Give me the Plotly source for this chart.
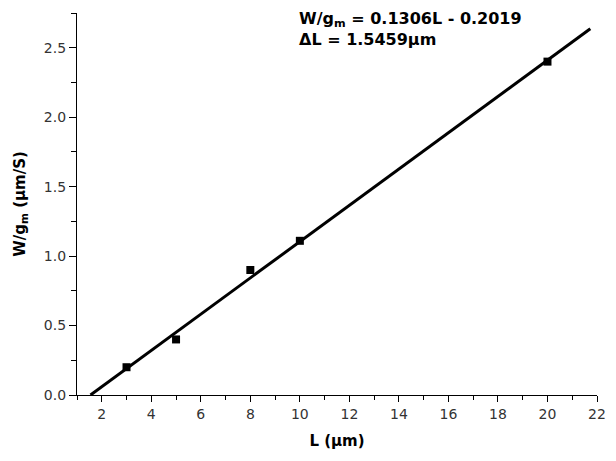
import plotly.graph_objects as go

# Data
L_values = [3, 5, 8, 10, 20]
W_gm_values = [0.20, 0.40, 0.90, 1.11, 2.40]
fit_slope = 0.1306
fit_intercept = -0.2019
fit_L = [1.5459, 21.73]
fit_W = [fit_slope * v + fit_intercept for v in fit_L]
x_tick_vals = [2, 4, 6, 8, 10, 12, 14, 16, 18, 20, 22]
y_tick_vals = [0.0, 0.5, 1.0, 1.5, 2.0, 2.5]
y_tick_text = ["0.0", "0.5", "1.0", "1.5", "2.0", "2.5"]

fig = go.Figure()
fig.add_trace(go.Scatter(x=fit_L, y=fit_W, mode="lines",
                         line=dict(color="black", width=3), showlegend=False))
fig.add_trace(go.Scatter(x=L_values, y=W_gm_values, mode="markers",
                         marker=dict(symbol="square", size=8, color="black"),
                         showlegend=False))

tickfont = dict(family="DejaVu Sans, sans-serif", size=14, color="#333")
titlefont = dict(family="DejaVu Sans, sans-serif", size=15, color="black")

fig.update_xaxes(range=[1, 22], tickvals=x_tick_vals, ticks="outside", ticklen=6,
                 tickwidth=1.3, tickcolor="black", showline=True, linecolor="black",
                 linewidth=1.3, showgrid=False, zeroline=False, tickfont=tickfont,
                 minor=dict(dtick=1, tick0=1, ticks="outside", ticklen=4,
                            tickwidth=1.3, tickcolor="black", showgrid=False),
                 title=dict(text="<b>L (μm)</b>", font=titlefont, standoff=14))
fig.update_yaxes(range=[0, 2.75], tickvals=y_tick_vals, ticktext=y_tick_text,
                 ticks="outside", ticklen=7, tickwidth=1.3, tickcolor="black",
                 showline=True, linecolor="black", linewidth=1.3, showgrid=False,
                 zeroline=False, tickfont=tickfont,
                 minor=dict(dtick=0.25, tick0=0, ticks="outside", ticklen=5,
                            tickwidth=1.3, tickcolor="black", showgrid=False),
                 title=dict(text="<b>W/g<sub>m</sub> (μm/S)</b>", font=titlefont, standoff=14))

annfont = dict(family="DejaVu Sans, sans-serif", size=16, color="black")
fig.add_annotation(x=9.87, y=2.70, xref="x", yref="y", xanchor="left", yanchor="middle",
                   text="<b>W/g<sub>m</sub> = 0.1306L - 0.2019</b>", showarrow=False,
                   font=annfont)
fig.add_annotation(x=9.87, y=2.56, xref="x", yref="y", xanchor="left", yanchor="middle",
                   text="<b>ΔL = 1.5459μm</b>", showarrow=False, font=annfont)

fig.update_layout(width=616, height=461, margin=dict(l=77, r=10, t=13, b=66),
                  plot_bgcolor="white", paper_bgcolor="white")
fig.write_html("out.html", config={"displayModeBar": False},
               post_script="document.body.style.margin='0';document.body.style.overflow='hidden';")
